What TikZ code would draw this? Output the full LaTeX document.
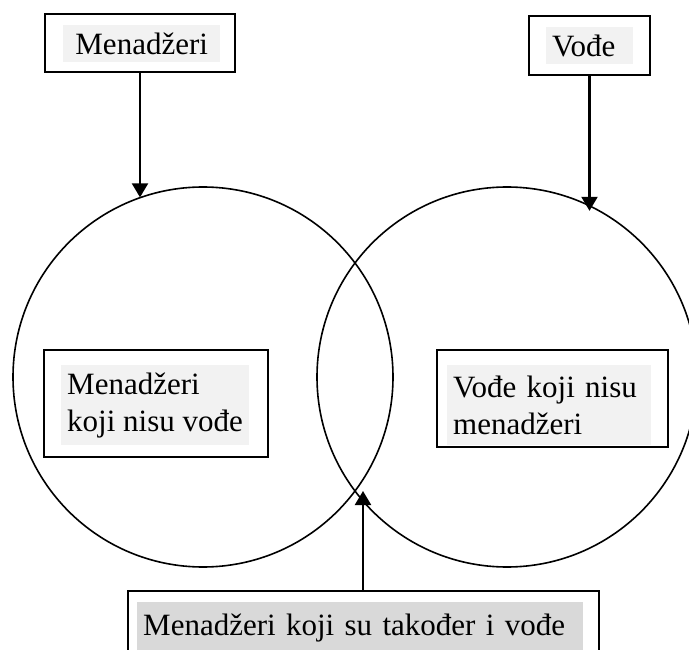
\documentclass[tikz,border=0pt]{standalone}
\usepackage{fontspec}
\setmainfont{Liberation Serif}
\usetikzlibrary{arrows.meta}
\definecolor{lightshade}{HTML}{F2F2F2}
\definecolor{darkshade}{HTML}{D9D9D9}
\begin{document}
\begin{tikzpicture}[
        x=1pt, y=-1pt,
        every node/.style={font=\fontsize{31}{37}\selectfont},
        shade/.style={fill=lightshade, inner xsep=6pt, inner ysep=0pt, text height=29pt, text depth=8pt, anchor=north west, align=left},
        twolines/.style={shade, text height=, text depth=, minimum height=80pt},
        frame/.style={draw, line width=1.8pt, inner sep=0pt},
        set/.style={draw, circle, line width=1.6pt, minimum size=380pt, inner sep=0pt, outer sep=0pt},
        pointer/.style={draw, line width=2.2pt, -{Triangle[length=14pt,width=16pt]}},
    ]
    \useasboundingbox (0,0) rectangle (689,650);
    % the two sets
    \node[set] (lc) at (203,377) {};
    \node[set] (rc) at (507,377) {};
    % frames
    \node[frame, minimum width=190pt, minimum height=58pt] (mgr) at (140,43) {};
    \node[frame, minimum width=121pt, minimum height=59pt] (vod) at (589.5,45.5) {};
    \node[frame, minimum width=224pt, minimum height=107pt] (nm) at (156,403.5) {};
    \node[frame, minimum width=231pt, minimum height=97pt] (vnm) at (552.5,398.5) {};
    \node[frame, minimum width=471pt, minimum height=89pt] (both) at (363.5,635.5) {};
    % shaded texts
    \node[shade, text width=145pt, align=center] (mgrtxt) at (63,25) {Menadžeri};
    \node[shade, text width=75pt] (vodtxt) at (546,27) {Vođe};
    \node[twolines] (nmtxt) at (61,365) {Menadžeri\\koji nisu vođe};
    \node[twolines, text width=192pt] (vnmtxt) at (447,365) {Vođe koji nisu\\menadžeri};
    \node[shade, fill=darkshade, text width=434pt, text height=33pt, text depth=20pt] (bothtxt) at (137,602) {Menadžeri koji su također i vođe};
    % arrows
    \draw[pointer] (mgr.south) -- (mgr.south |- lc.109);
    \draw[pointer] (vod.south) -- (vod.south |- rc.61);
    \coordinate (meet) at (363,491);
    \draw[pointer] (meet |- both.north) -- (meet);
\end{tikzpicture}
\end{document}
